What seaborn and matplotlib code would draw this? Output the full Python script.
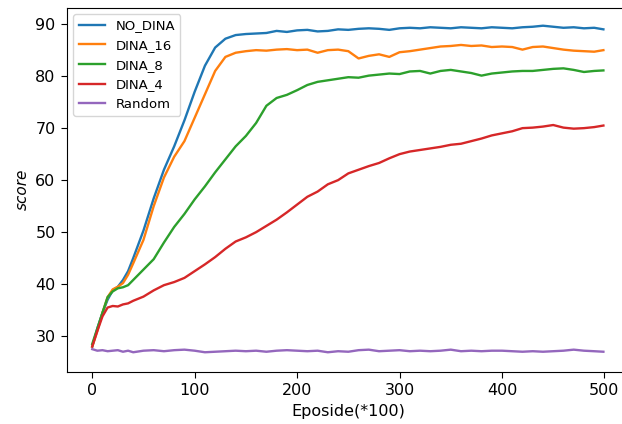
import numpy as np
import pandas as pd
import seaborn as sns
from matplotlib import pyplot as plt

# episodes (x100)
episodes = [0, 5, 10, 15, 20, 25, 30, 35, 40] + list(range(50, 500, 10)) + [499]

no_dina = [28.0, 31.5, 34.5, 37.0, 38.8, 39.5, 40.8, 42.5, 45.0,
           50.3, 56.5, 62.0, 66.5, 71.5, 77.0, 82.0, 85.5, 87.2, 87.9,
           88.1, 88.2, 88.3, 88.7, 88.5, 88.8, 88.9, 88.6, 88.7, 89.0,
           88.9, 89.1, 89.2, 89.1, 88.9, 89.2, 89.3, 89.2, 89.4, 89.3,
           89.2, 89.4, 89.3, 89.2, 89.4, 89.3, 89.2, 89.4, 89.5, 89.7,
           89.5, 89.3, 89.4, 89.2, 89.3, 89.0]
dina_16 = [28.0, 31.0, 34.5, 37.5, 39.0, 39.5, 40.2, 41.8, 44.0,
           48.5, 55.0, 60.5, 64.5, 67.5, 72.0, 76.5, 81.0, 83.7, 84.5,
           84.8, 85.0, 84.9, 85.1, 85.2, 85.0, 85.1, 84.5, 85.0, 85.1,
           84.8, 83.4, 83.9, 84.2, 83.7, 84.6, 84.8, 85.1, 85.4, 85.7,
           85.8, 86.0, 85.8, 85.9, 85.6, 85.7, 85.6, 85.1, 85.6, 85.7,
           85.4, 85.1, 84.9, 84.8, 84.7, 85.0]
dina_8 = [28.5, 31.5, 34.5, 37.5, 38.6, 39.2, 39.4, 39.8, 40.8,
          42.8, 44.8, 48.0, 51.0, 53.5, 56.3, 58.8, 61.5, 64.0, 66.5,
          68.5, 71.0, 74.3, 75.8, 76.4, 77.3, 78.3, 78.9, 79.2, 79.5,
          79.8, 79.7, 80.1, 80.3, 80.5, 80.4, 80.9, 81.0, 80.5, 81.0,
          81.2, 80.9, 80.6, 80.1, 80.5, 80.7, 80.9, 81.0, 81.0, 81.2,
          81.4, 81.5, 81.2, 80.8, 81.0, 81.1]
dina_4 = [28.0, 31.0, 33.8, 35.5, 35.8, 35.7, 36.1, 36.3, 36.8,
          37.6, 38.8, 39.8, 40.4, 41.2, 42.5, 43.8, 45.2, 46.8, 48.2,
          49.0, 50.0, 51.2, 52.4, 53.8, 55.3, 56.8, 57.8, 59.2, 60.0,
          61.3, 62.0, 62.7, 63.3, 64.2, 65.0, 65.5, 65.8, 66.1, 66.4,
          66.8, 67.0, 67.5, 68.0, 68.6, 69.0, 69.4, 70.0, 70.1, 70.3,
          70.6, 70.1, 69.9, 70.0, 70.2, 70.5]
random_agent = [27.5, 27.2, 27.3, 27.1, 27.2, 27.3, 27.0, 27.2, 26.9,
                27.2, 27.3, 27.1, 27.3, 27.4, 27.2, 26.9, 27.0, 27.1, 27.2,
                27.1, 27.2, 27.0, 27.2, 27.3, 27.2, 27.1, 27.2, 26.9, 27.1,
                27.0, 27.3, 27.4, 27.1, 27.2, 27.3, 27.1, 27.2, 27.1, 27.2,
                27.4, 27.1, 27.2, 27.1, 27.2, 27.2, 27.1, 27.0, 27.1, 27.0,
                27.1, 27.2, 27.4, 27.2, 27.1, 27.0]

series_names = ["NO_DINA", "DINA_16", "DINA_8", "DINA_4", "Random"]
series_values = [no_dina, dina_16, dina_8, dina_4, random_agent]

df = pd.concat([pd.DataFrame({"episode": episodes, "score": vals, "model": name})
                for name, vals in zip(series_names, series_values)], ignore_index=True)

fig = plt.figure(figsize=(6.22, 4.24), dpi=100)
ax = fig.add_axes([0.1072, 0.1226, 0.904, 0.8597])

sns.lineplot(data=df, x="episode", y="score", hue="model", hue_order=series_names,
             palette="tab10", linewidth=1.7, ax=ax)

ax.set_xlim(-24.95, 523.95)
ax.set_ylim(23.1, 93.2)
ax.set_xticks([0, 100, 200, 300, 400, 500])
ax.set_yticks([30, 40, 50, 60, 70, 80, 90])
ax.tick_params(labelsize=11.5, length=4.5)
ax.set_xlabel("Eposide(*100)", fontsize=11.5)
ax.set_ylabel("score", fontsize=11, style="italic")
ax.legend(loc="upper left", fontsize=9.5)

fig.savefig("out.png", dpi=100)
